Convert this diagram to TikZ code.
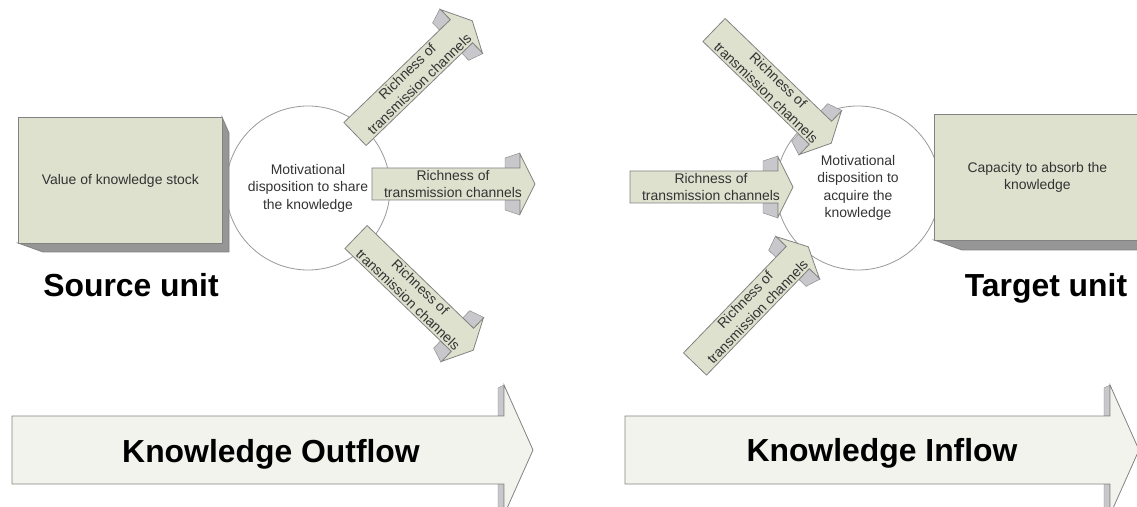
\documentclass[tikz,border=0pt]{standalone}
\usepackage{fontspec}
\setmainfont{Liberation Sans}
\definecolor{sage}{RGB}{221,225,206}
\definecolor{pale}{RGB}{243,243,237}
\definecolor{edge}{RGB}{130,130,130}
\definecolor{shade}{RGB}{150,150,150}
\definecolor{fold}{RGB}{200,200,204}

\begin{document}
\begin{tikzpicture}[x=1bp,y=-1bp,
    small/.style={font=\fontsize{14}{17.5}\selectfont, text=black!80, align=center},
    big/.style={font=\fontsize{32}{38}\selectfont\bfseries},
    face/.style={draw=edge, line width=0.8bp, fill=sage},
    side/.style={draw=edge, line width=0.8bp, fill=shade},
    disc/.style={circle, draw=black!40, line width=0.8bp, fill=white, minimum size=164bp, inner sep=0pt},
    chanarrow/.pic={
      \draw[draw=edge, fill=fold] (133,-16) -- (133,-26) -- (148,-31) -- (148,-16) -- cycle;
      \draw[draw=edge, fill=fold] (133,16) -- (133,26) -- (148,31) -- (148,16) -- cycle;
      \draw[face] (0,-16) -- (148,-16) -- (148,-30) -- (163,0) -- (148,30) -- (148,16) -- (0,16) -- cycle;
      \node[small, transform shape] (-label) at (81,0) {Richness of\\transmission channels};
    }]
  \useasboundingbox (0,0) rectangle (1137,507);

  % source side
  \node[disc, small] (share) at (308,188) {Motivational\\disposition to share\\the knowledge};
  \pic[rotate=44] (srcup) at (355,134) {chanarrow};
  \pic (srcmid) at (372,184) {chanarrow};
  \pic[rotate=-44] (srclow) at (356,237) {chanarrow};
  \draw[side] (222,117) -- (229,133) -- (229,252) -- (43,252) -- (18,243) -- (222,243) -- cycle;
  \node[face, small, anchor=north west, minimum width=204bp, minimum height=126bp] (stock) at (18,117) {Value of knowledge stock};
  \node[big, anchor=base] (source) at (131,297) {Source unit};

  % target side
  \node[disc, small] (acquire) at (858,188) {Motivational\\disposition to\\acquire the\\knowledge};
  \pic[rotate=-44] (tgtup) at (714,30) {chanarrow};
  \pic (tgtmid) at (630,187) {chanarrow};
  \pic[rotate=46] (tgtlow) at (695,364) {chanarrow};
  \draw[side] (934,240) -- (1140,240) -- (1140,250) -- (962,250) -- cycle;
  \node[face, small, anchor=north west, minimum width=206bp, minimum height=126bp] (absorb) at (934,114) {Capacity to absorb the\\knowledge};
  \node[big, anchor=base] (target) at (1046,297) {Target unit};

  % flows
  \draw[draw=edge, fill=fold] (498,416) -- (498,388) -- (504,385) -- (504,416) -- cycle;
  \draw[draw=edge, fill=fold] (498,484) -- (498,512) -- (504,515) -- (504,484) -- cycle;
  \draw[draw=edge, line width=0.8bp, fill=pale] (12,416) -- (504,416) -- (504,385) -- (533,450) -- (504,515) -- (504,484) -- (12,484) -- cycle;
  \node[big, anchor=base] (outflow) at (271,462) {Knowledge Outflow};

  \draw[draw=edge, fill=fold] (1104,416) -- (1104,388) -- (1110,385) -- (1110,416) -- cycle;
  \draw[draw=edge, fill=fold] (1104,484) -- (1104,512) -- (1110,515) -- (1110,484) -- cycle;
  \draw[draw=edge, line width=0.8bp, fill=pale] (625,416) -- (1110,416) -- (1110,385) -- (1139,450) -- (1110,515) -- (1110,484) -- (625,484) -- cycle;
  \node[big, anchor=base] (inflow) at (882,461) {Knowledge Inflow};
\end{tikzpicture}
\end{document}
